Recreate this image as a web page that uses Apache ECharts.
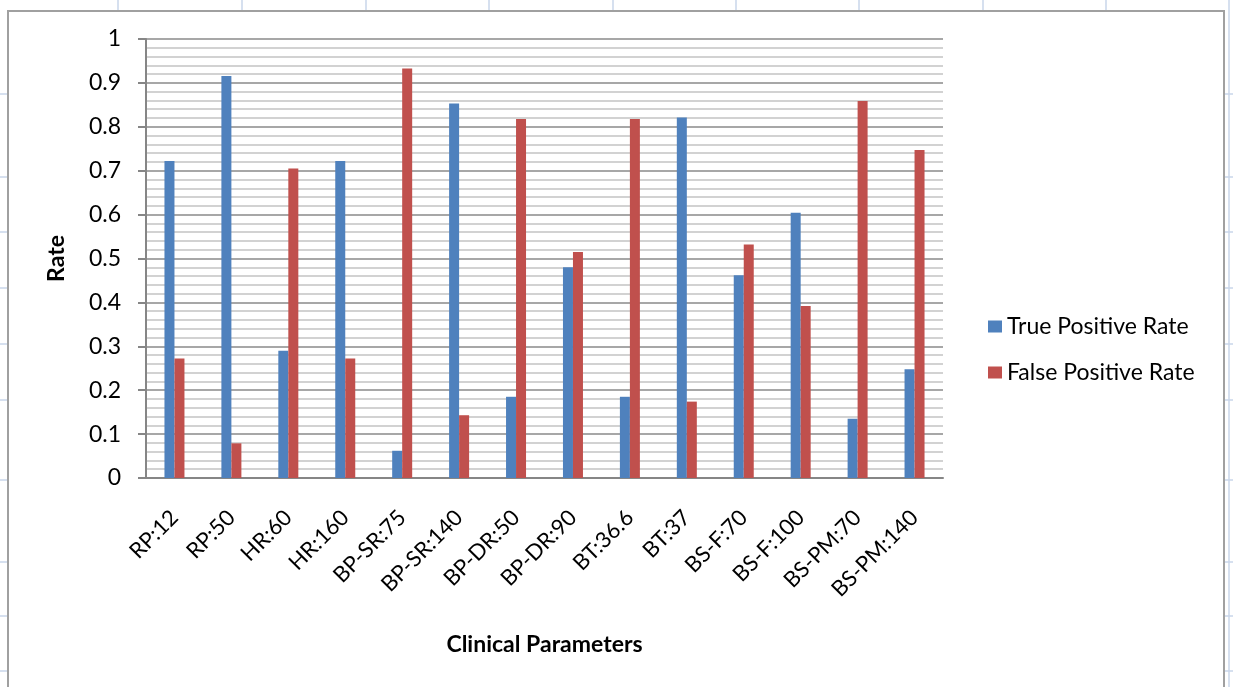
<!DOCTYPE html>
<html>
<head>
<meta charset="utf-8">
<script src="https://cdn.jsdelivr.net/npm/echarts@6/dist/echarts.min.js"></script>
<style>
html,body{margin:0;padding:0;background:#fff;}
#chart{width:1233px;height:687px;}
</style>
</head>
<body>
<div id="chart"></div>
<script>
const categories = ['RP:12','RP:50','HR:60','HR:160','BP-SR:75','BP-SR:140','BP-DR:50','BP-DR:90','BT:36.6','BT:37','BS-F:70','BS-F:100','BS-PM:70','BS-PM:140'];
const truePositiveRate = [0.722,0.916,0.290,0.722,0.062,0.853,0.185,0.480,0.185,0.821,0.462,0.604,0.135,0.248];
const falsePositiveRate = [0.272,0.079,0.705,0.272,0.933,0.143,0.818,0.515,0.818,0.174,0.532,0.392,0.859,0.747];
const yTicks = [0,0.1,0.2,0.3,0.4,0.5,0.6,0.7,0.8,0.9,1];

const FONT = 'Lato, "Open Sans", sans-serif';
const sheetColor = '#c9d6ea';
const colX = [118,242,366,489,613,736,859,983,1106];
const rowY = [94,177,232,288,344,400,480,562,616,671];

const graphics = [];
colX.forEach(x => graphics.push({type:'line', shape:{x1:x,y1:0,x2:x,y2:10}, style:{stroke:sheetColor,lineWidth:1.5}, silent:true}));
rowY.forEach(y => {
  graphics.push({type:'line', shape:{x1:0,y1:y,x2:7,y2:y}, style:{stroke:sheetColor,lineWidth:1.5}, silent:true});
  graphics.push({type:'line', shape:{x1:1225,y1:y,x2:1233,y2:y}, style:{stroke:sheetColor,lineWidth:1.5}, silent:true});
});
graphics.push({type:'line', shape:{x1:1229,y1:0,x2:1229,y2:687}, style:{stroke:sheetColor,lineWidth:1.5}, silent:true});
graphics.push({type:'rect', shape:{x:8,y:11,width:1216,height:700}, style:{fill:null,stroke:'#a0a0a0',lineWidth:2}, silent:true, z:-1});

const chart = echarts.init(document.getElementById('chart'));
chart.setOption({
  animation:false,
  backgroundColor:'#fff',
  textStyle:{fontFamily:FONT},
  graphic:graphics,
  legend:{
    orient:'vertical',
    left:983, top:310,
    itemWidth:14, itemHeight:12, itemGap:23,
    icon:'rect',
    textStyle:{fontSize:23, color:'#000', fontFamily:FONT},
    data:['True Positive Rate','False Positive Rate']
  },
  grid:{left:146, right:290, top:39, bottom:209, containLabel:false},
  xAxis:{
    type:'category',
    data:categories,
    name:'Clinical Parameters',
    nameLocation:'middle',
    nameGap:155,
    nameTextStyle:{fontSize:23, fontWeight:'bold', color:'#000', fontFamily:FONT},
    axisLine:{lineStyle:{color:'#868686', width:2}},
    axisTick:{show:false},
    axisLabel:{rotate:45, fontSize:22, color:'#000', margin:36, interval:0, fontFamily:FONT}
  },
  yAxis:{
    type:'value',
    min:0, max:1, interval:0.1,
    name:'Rate',
    nameLocation:'middle',
    nameGap:78,
    nameTextStyle:{fontSize:23, fontWeight:'bold', color:'#000', fontFamily:FONT},
    axisLine:{show:true, lineStyle:{color:'#868686', width:2}},
    axisTick:{show:true, length:8, lineStyle:{color:'#868686', width:2}},
    axisLabel:{fontSize:23, color:'#000', margin:25, fontFamily:FONT,
      formatter: v => { const t = yTicks.find(x => Math.abs(x - v) < 1e-9); return t === undefined ? '' : String(t); }},
    splitLine:{show:true, lineStyle:{color:'#8a8a8a', width:1.5}},
    minorTick:{show:false, splitNumber:5},
    minorSplitLine:{show:true, lineStyle:{color:'#c4c4c4', width:1.5}}
  },
  series:[
    {name:'True Positive Rate', type:'bar', data:truePositiveRate, barWidth:10, barGap:'0%',
     itemStyle:{color:'#4f81bd'}},
    {name:'False Positive Rate', type:'bar', data:falsePositiveRate, barWidth:10, barGap:'0%',
     itemStyle:{color:'#c0504d'}}
  ]
});
</script>
</body>
</html>
